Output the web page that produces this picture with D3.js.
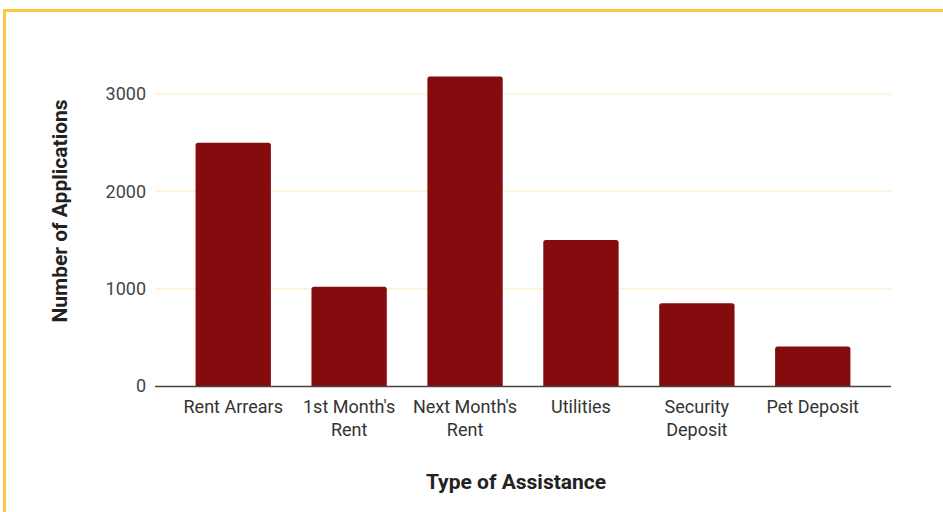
<!DOCTYPE html>
<html><head><meta charset="utf-8">
<script src="https://cdn.jsdelivr.net/npm/d3@7"></script>
<style>html,body{margin:0;padding:0;background:#fff;}svg{display:block;font-family:Roboto,sans-serif;}</style>
</head><body>
<script>
const categories = [["Rent Arrears"], ["1st Month's", "Rent"], ["Next Month's", "Rent"], ["Utilities"], ["Security", "Deposit"], ["Pet Deposit"]];
const values = [2500, 1020, 3180, 1500, 850, 405];
const yTicks = [0, 1000, 2000, 3000];
const xTitle = "Type of Assistance";
const yTitle = "Number of Applications";

const W = 943, H = 512;
const svg = d3.select("body").append("svg").attr("width", W).attr("height", H);

// frame
svg.append("path").attr("d", "M4.5,512 L4.5,10.5 L943,10.5").attr("fill", "none")
  .attr("stroke", "#FFC644").attr("stroke-width", 3);

const plotLeft = 155, plotRight = 891, plotBottom = 386;
const keys = categories.map(c => c.join(" "));
const x = d3.scaleBand().domain(keys).range([plotLeft, plotRight]).paddingInner(0.35).paddingOuter(0.35);
const y = d3.scaleLinear().domain([0, 3000]).range([plotBottom, 94]);

// gridlines
svg.append("g").selectAll("line").data(yTicks.filter(d => d > 0)).join("line")
  .attr("x1", plotLeft).attr("x2", plotRight).attr("y1", d => y(d)).attr("y2", d => y(d))
  .attr("stroke", "#FFF1D4").attr("stroke-width", 1.5);

// y axis
const yAxis = svg.append("g").attr("transform", `translate(${plotLeft},0)`)
  .call(d3.axisLeft(y).tickValues(yTicks).tickSize(0).tickPadding(9).tickFormat(d3.format("d")));
yAxis.select(".domain").remove();
yAxis.selectAll("text").attr("font-size", 18).attr("fill", "#444").attr("font-family", "Roboto, sans-serif");

// bars
const rad = 2.5;
svg.append("g").selectAll("path").data(values).join("path")
  .attr("d", (d, i) => {
    const x0 = x(keys[i]), w = x.bandwidth(), y0 = y(d), y1 = y(0);
    return `M${x0},${y1} L${x0},${y0 + rad} Q${x0},${y0} ${x0 + rad},${y0} L${x0 + w - rad},${y0} Q${x0 + w},${y0} ${x0 + w},${y0 + rad} L${x0 + w},${y1} Z`;
  })
  .attr("fill", "#840C0F");

// baseline
svg.append("line").attr("x1", plotLeft).attr("x2", plotRight).attr("y1", plotBottom + 0.5).attr("y2", plotBottom + 0.5)
  .attr("stroke", "#444").attr("stroke-width", 1.5);

// x labels
const xl = svg.append("g").selectAll("text").data(categories).join("text")
  .attr("x", (d, i) => x(keys[i]) + x.bandwidth() / 2)
  .attr("y", 413).attr("text-anchor", "middle").attr("font-size", 18).attr("fill", "#333");
xl.selectAll("tspan").data(d => d).join("tspan")
  .attr("x", function () { return d3.select(this.parentNode).attr("x"); })
  .attr("dy", (d, i) => i === 0 ? 0 : 23).text(d => d);

// titles
svg.append("text").attr("x", 516).attr("y", 489).attr("text-anchor", "middle")
  .attr("font-size", 21).attr("font-weight", "bold").attr("fill", "#222").text(xTitle);
svg.append("text").attr("transform", "translate(67,211) rotate(-90)").attr("text-anchor", "middle")
  .attr("font-size", 21).attr("font-weight", "bold").attr("fill", "#222").text(yTitle);
</script>
</body></html>
